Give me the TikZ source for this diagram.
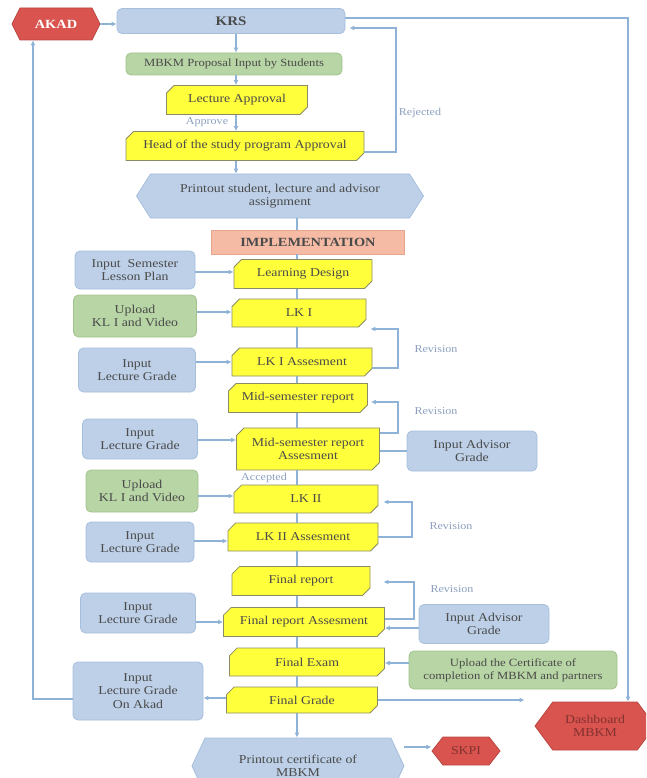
\documentclass[tikz,border=0pt]{standalone}
\usepackage{fontspec}
\setmainfont{Liberation Serif}[FakeStretch=1.15]
\usetikzlibrary{shapes.misc,shapes.symbols,arrows.meta}
\definecolor{lnblue}{HTML}{8FB3D6}
\definecolor{bxblue}{HTML}{BDD0E8}
\definecolor{bdblue}{HTML}{A6BFDD}
\definecolor{bxgreen}{HTML}{B8D5A5}
\definecolor{bdgreen}{HTML}{A2C38E}
\definecolor{bxred}{HTML}{D9534F}
\definecolor{bxyel}{HTML}{FFFF3C}
\definecolor{bdyel}{HTML}{8C8C64}
\definecolor{bxsalmon}{HTML}{F5BBA5}
\definecolor{bdsalmon}{HTML}{E6A58C}
\definecolor{txgray}{HTML}{4A4A4A}
\definecolor{lbgray}{HTML}{8C9FBE}
\begin{document}
\begin{tikzpicture}[x=1pt,y=1pt,yscale=-1,xscale=1,
  every node/.style={inner sep=1pt,align=center,text=txgray,font=\fontsize{12}{13.5}\selectfont},
  yel/.style={chamfered rectangle,chamfered rectangle corners={north west,south east},chamfered rectangle xsep=4.5pt,draw=bdyel,fill=bxyel,line width=0.8pt},
  bbox/.style={rectangle,rounded corners=5pt,draw=bdblue,fill=bxblue,line width=0.8pt},
  gbox/.style={rectangle,rounded corners=5pt,draw=bdgreen,fill=bxgreen,line width=0.8pt},
  hexa/.style={signal,signal to=west and east,line width=0.8pt},
  redhex/.style={hexa,fill=bxred,draw=bxred!85!black,text=bxred!60!black},
  link/.style={draw=lnblue,line width=1.2pt},
  arr/.style={link,-{Latex[length=5pt,width=5pt]}},
  lbl/.style={text=lbgray,font=\fontsize{10.5}{12}\selectfont}]
\clip (0,0) rectangle (646,778);
%Top part
\node [redhex,text=white,minimum width=88pt,minimum height=32pt,signal pointer angle=127,font=\fontsize{12.5}{14}\selectfont\bfseries] (akad) at (56,24) {AKAD};
\node [bbox,minimum width=228pt,minimum height=25pt,font=\fontsize{13}{15}\selectfont\bfseries] (krs) at (231,21) {KRS};
\node [gbox,minimum width=216pt,minimum height=22pt,font=\fontsize{11}{13}\selectfont] (proposal) at (234,64) {MBKM Proposal Input by Students};
\node [yel,minimum width=141pt,minimum height=29pt] (lectappr) at (237,100) {Lecture Approval};
\node [yel,minimum width=238pt,minimum height=29pt] (headappr) at (245,146) {Head of the study program Approval};
\node [hexa,fill=bxblue,draw=bdblue,minimum width=287pt,minimum height=44pt,signal pointer angle=115] (printassign) at (280,196) {Printout student, lecture and advisor\\assignment};
\node [rectangle,fill=bxsalmon,draw=bdsalmon,line width=0.8pt,minimum width=193pt,minimum height=24pt,font=\fontsize{12.5}{14}\selectfont\bfseries] (impl) at (308,242) {IMPLEMENTATION};
%Implementation steps
\node [yel,minimum width=138pt,minimum height=29pt] (learndesign) at (303,274) {Learning Design};
\node [yel,minimum width=134pt,minimum height=28pt] (lkone) at (299,313) {LK I};
\node [yel,minimum width=140pt,minimum height=28pt] (lkoneass) at (302,362) {LK I Assesment};
\node [yel,minimum width=139pt,minimum height=29pt] (midrep) at (298,398) {Mid-semester report};
\node [yel,minimum width=143pt,minimum height=42pt] (midrepass) at (308,449) {Mid-semester report\\Assesment};
\node [yel,minimum width=144pt,minimum height=28pt] (lktwo) at (306,499) {LK II};
\node [yel,minimum width=150pt,minimum height=28pt] (lktwoass) at (303,537) {LK II Assesment};
\node [yel,minimum width=138pt,minimum height=29pt] (finrep) at (301,581) {Final report};
\node [yel,minimum width=161pt,minimum height=29pt] (finrepass) at (304,622) {Final report Assesment};
\node [yel,minimum width=155pt,minimum height=28pt] (finexam) at (307,662) {Final Exam};
\node [yel,minimum width=151pt,minimum height=26pt] (fingrade) at (302,700) {Final Grade};
%Inputs
\node [bbox,minimum width=120pt,minimum height=38pt] (lessonplan) at (135,270) {Input~ Semester\\Lesson Plan};
\node [gbox,minimum width=123pt,minimum height=42pt] (uploadone) at (135,316) {Upload\\KL I and Video};
\node [bbox,minimum width=117pt,minimum height=44pt] (gradeone) at (137,370) {Input\\Lecture Grade};
\node [bbox,minimum width=115pt,minimum height=40pt] (gradetwo) at (140,439) {Input\\Lecture Grade};
\node [bbox,minimum width=130pt,minimum height=40pt] (advone) at (472,451) {Input Advisor\\Grade};
\node [gbox,minimum width=112pt,minimum height=42pt] (uploadtwo) at (142,491) {Upload\\KL I and Video};
\node [bbox,minimum width=108pt,minimum height=40pt] (gradethree) at (140,542) {Input\\Lecture Grade};
\node [bbox,minimum width=115pt,minimum height=40pt] (gradefour) at (138,613) {Input\\Lecture Grade};
\node [bbox,minimum width=130pt,minimum height=39pt] (advtwo) at (484,624) {Input Advisor\\Grade};
\node [gbox,minimum width=208pt,minimum height=38pt,font=\fontsize{11}{13}\selectfont] (certup) at (513,670) {Upload the Certificate of\\completion of MBKM and partners};
\node [bbox,minimum width=130pt,minimum height=58pt] (gradeakad) at (138,691) {Input\\Lecture Grade\\On Akad};
%Outputs
\node [hexa,fill=bxblue,draw=bdblue,minimum width=212pt,minimum height=56pt,signal pointer angle=130] (printcert) at (298,766) {Printout certificate of\\MBKM};
\node [redhex,minimum width=68pt,minimum height=28pt,signal pointer angle=104] (skpi) at (466,751) {SKPI};
\node [redhex,minimum width=120pt,minimum height=48pt,signal pointer angle=107] (dashboard) at (595,726) {Dashboard\\MBKM};
%Labels
\node [lbl] (lblappr) at (207,122) {Approve};
\node [lbl] (lblrej) at (420,113) {Rejected};
\node [lbl] (lblacc) at (264,478) {Accepted};
\node [lbl] (lblrevone) at (436,349) {Revision};
\node [lbl] (lblrevtwo) at (436,411) {Revision};
\node [lbl] (lblrevthree) at (451,526) {Revision};
\node [lbl] (lblrevfour) at (452,589) {Revision};
%Connectors
\coordinate (spine) at (297,0);
\draw [arr] (akad.east) -- (krs.west |- akad.east);
\foreach \a/\b in {krs/proposal,proposal/lectappr,lectappr/headappr,headappr/printassign}
  \draw [arr] (\a.south -| 236,0) -- (\b.north -| 236,0);
\foreach \a/\b in {printassign/impl,impl/learndesign,learndesign/lkone,lkone/lkoneass,lkoneass/midrep,midrep/midrepass,midrepass/lktwo,lktwo/lktwoass,lktwoass/finrep,finrep/finrepass,finrepass/finexam,finexam/fingrade}
  \draw [link] (\a.south -| spine) -- (\b.north -| spine);
\draw [arr] (fingrade.south -| spine) -- (printcert.north -| spine);
\foreach \a/\b/\y in {lessonplan/learndesign/272,uploadone/lkone/312,gradeone/lkoneass/362,gradetwo/midrepass/440,uploadtwo/lktwo/496,gradethree/lktwoass/541,gradefour/finrepass/622}
  \draw [arr] (\a.east |- 0,\y) -- (\b.west |- 0,\y);
%Revision loops
\draw [arr,shorten >=4pt] (headappr.east |- 0,152) -- (396,152) |- (krs.east |- 0,28);
\draw [arr,shorten >=4pt] (lkoneass.east |- 0,368) -- (398,368) |- (lkone.east |- 0,329);
\draw [arr,shorten >=3pt] (midrepass.east |- 0,433) -- (398,433) |- (midrep.east |- 0,402);
\draw [arr,shorten >=5pt] (lktwoass.east |- 0,537) -- (412,537) |- (lktwo.east |- 0,502);
\draw [arr,shorten >=13pt] (finrepass.east |- 0,619) -- (414,619) |- (finrep.east |- 0,582);
%Right side inputs
\draw [link] (advone.west |- 0,451) -- (midrepass.east |- 0,451);
\draw [arr] (advtwo.west |- 0,628) -- (finrepass.east |- 0,628);
\draw [arr] (certup.west |- 0,663) -- (finexam.east |- 0,663);
%Final grade outputs
\draw [arr] (fingrade.west |- 0,698) -- (gradeakad.east |- 0,698);
\draw [arr,shorten >=10pt] (fingrade.east |- 0,700) -- (dashboard.west |- 0,700);
\draw [arr] (gradeakad.west |- 0,699) -| (akad.south -| 33,0);
\draw [arr] (krs.east |- 0,18) -| (dashboard.north -| 628,0);
\draw [arr] (printcert.east |- 0,747) -- (skpi.west |- 0,747);
\end{tikzpicture}
\end{document}
